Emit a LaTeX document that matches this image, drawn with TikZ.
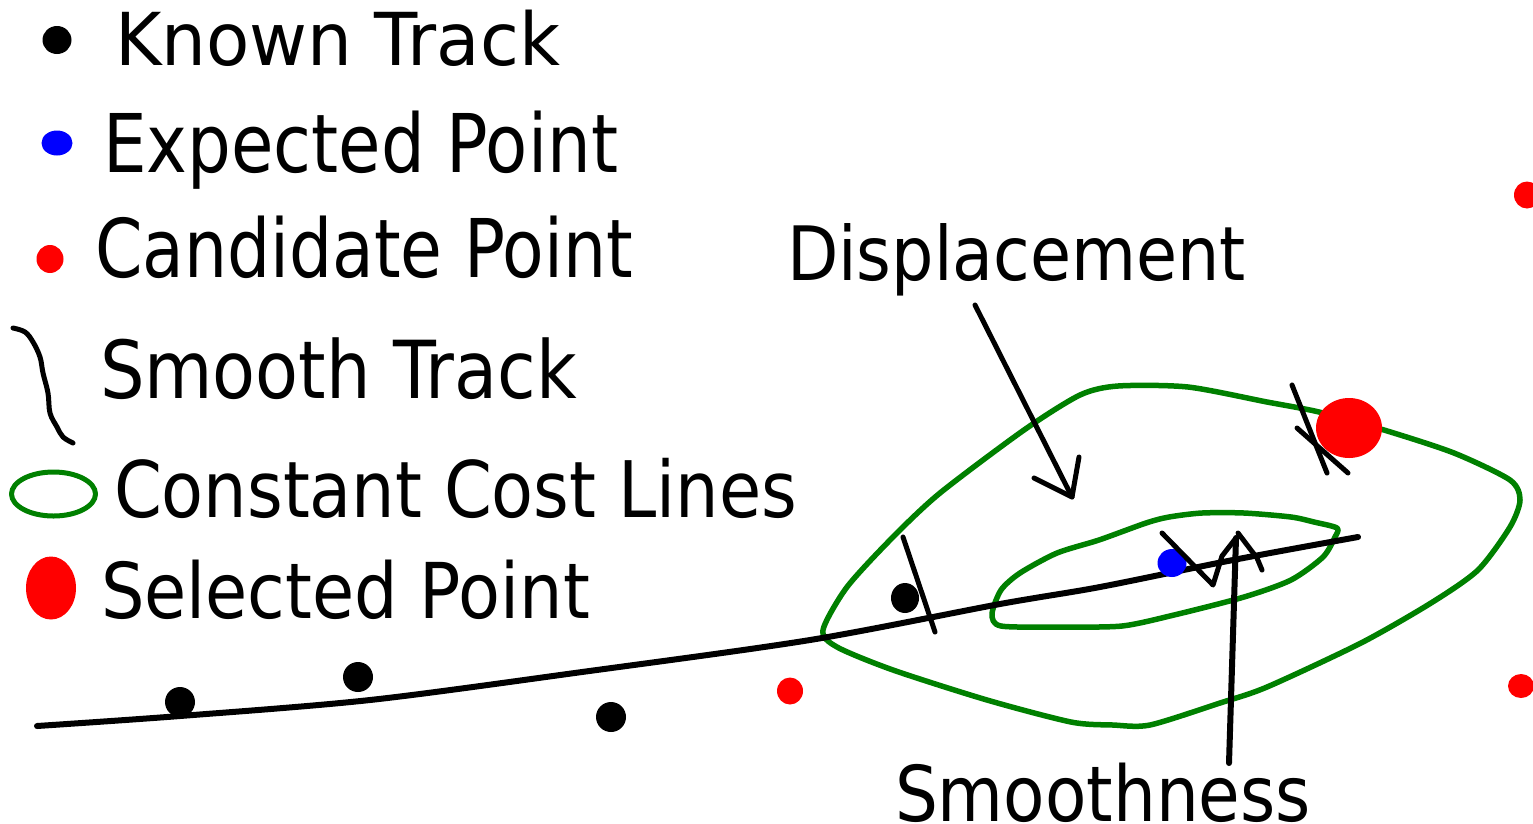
\documentclass[tikz,border=0pt]{standalone}
\usepackage{fontspec}
\setmainfont{DejaVu Sans}
\usepackage{graphicx}
\usetikzlibrary{shapes.geometric}

\definecolor{costgreen}{RGB}{0,128,0}
\definecolor{candred}{RGB}{255,0,0}
\definecolor{expblue}{RGB}{0,0,255}

% scale a label horizontally to a given width, keeping its height
\newcommand\fitw[2]{\resizebox{#1pt}{\height}{#2}}

\tikzset{
  lbl/.style={anchor=base west, inner sep=0pt, outer sep=0pt},
  dotshape/.style={ellipse, inner sep=0pt, outer sep=0pt, draw=none},
  knowndot/.style={dotshape, fill=black, minimum width=30pt, minimum height=30pt},
  canddot/.style={dotshape, fill=candred, minimum width=26pt, minimum height=27pt},
  expdot/.style={dotshape, fill=expblue, minimum width=29pt, minimum height=28pt},
  seldot/.style={dotshape, fill=candred, minimum width=66pt, minimum height=60pt},
  track/.style={line width=6pt, black},
  ink/.style={line width=5pt, black},
  cost/.style={line width=5.5pt, costgreen},
}

\begin{document}
\begin{tikzpicture}[x=1pt, y=-1pt, line join=round, line cap=round]
\useasboundingbox (0,0) rectangle (1533,823);

% ---------- legend ----------
\node[knowndot, minimum width=29pt, minimum height=28pt] (lgknown) at (57,40) {};
\node[expdot, minimum width=31pt, minimum height=25pt] (lgexp) at (57,143) {};
\node[canddot, minimum width=27pt, minimum height=28pt] (lgcand) at (50,259) {};
\draw[ink] plot[smooth, tension=0.6] coordinates
  {(13,328) (25,332) (33,342) (40,357) (43,373) (48,393) (50,413) (57,427) (63,437) (73,443)};
\draw[line width=5pt, costgreen] (53.5,494) ellipse [x radius=42, y radius=22];
\node[seldot, minimum width=50pt, minimum height=63pt] (lgsel) at (51,588) {};

\node[lbl, font=\fontsize{73}{80}\selectfont] (tknown) at (115,65) {\fitw{445}{Known Track}};
\node[lbl, font=\fontsize{81}{88}\selectfont] (texp) at (103,172) {\fitw{515}{Expected Point}};
\node[lbl, font=\fontsize{81}{88}\selectfont] (tcand) at (95,277) {\fitw{538}{Candidate Point}};
\node[lbl, font=\fontsize{80}{88}\selectfont] (tsmooth) at (100,398) {\fitw{477}{Smooth Track}};
\node[lbl, font=\fontsize{78}{86}\selectfont] (tcost) at (114,517) {\fitw{683}{Constant Cost Lines}};
\node[lbl, font=\fontsize{77}{85}\selectfont] (tsel) at (101,618) {\fitw{489}{Selected Point}};

% ---------- constant cost lines ----------
\draw[cost] plot[smooth cycle, tension=0.45] coordinates {
  (823,630) (847,587) (893,537) (940,493) (1024,430) (1080,395) (1118,386)
  (1188,387) (1267,402) (1319,412) (1384,430) (1454,453) (1510,480) (1520,500)
  (1510,527) (1478,570) (1431,603) (1361,643) (1267,687) (1220,703) (1150,725)
  (1113,725) (1071,722) (987,700) (893,670) (837,647)};
\draw[cost] plot[smooth cycle, tension=0.45] coordinates {
  (1001,626) (992,614) (1001,590) (1020,573) (1057,553) (1099,540) (1146,523)
  (1169,517) (1202,513) (1244,513) (1291,517) (1314,522) (1337,528) (1335,537)
  (1323,557) (1291,580) (1244,597) (1174,615) (1122,626) (1060,627)};

% ---------- smooth track ----------
\draw[track] plot[smooth, tension=0.5] coordinates {
  (37,726) (180,716) (370,700) (582,672) (810,640) (1000,604) (1100,587)
  (1233,560) (1358,537)};

% ---------- points ----------
\node[knowndot] (k1) at (180,702) {};
\node[knowndot] (k2) at (358,677) {};
\node[knowndot] (k3) at (611,717) {};
\node[knowndot, minimum width=28pt, minimum height=30pt] (k4) at (905,598) {};
\node[canddot] (c1) at (790,691) {};
\node[canddot] (c2) at (1527,195) {};
\node[canddot, minimum height=24pt] (c3) at (1521,686) {};
\node[expdot] (e1) at (1172,563) {};
\node[seldot] (s1) at (1349,428) {};

% ---------- displacement marks ----------
\draw[ink] (903,537) -- (935,632);
\draw[ink] (1292,385) -- (1327,473);
\draw[ink] (1297,428) -- (1348,473);

% ---------- displacement label and arrow ----------
\node[lbl, font=\fontsize{75}{82}\selectfont] (tdisp) at (787,280) {\fitw{459}{Displacement}};
\coordinate (dstart) at (975,305);
\coordinate (dtip) at (1072,497);
\draw[ink] (dstart) -- (dtip);
\draw[ink] (1034,478) -- (dtip) -- (1079,457);

% ---------- smoothness label and arrow ----------
\node[lbl, font=\fontsize{77}{85}\selectfont] (tsmoothness) at (895,821) {\fitw{416}{Smoothness}};
\coordinate (sfoot) at (1229,763);
\coordinate (stip) at (1236,538);
\draw[line width=6pt] (sfoot) -- (stip);
\draw[ink] (1162,533) -- (1213,585) -- (1222,556) -- (stip);
\draw[ink] (1238,533) -- (1257,558) -- (1262,570);
\end{tikzpicture}
\end{document}
